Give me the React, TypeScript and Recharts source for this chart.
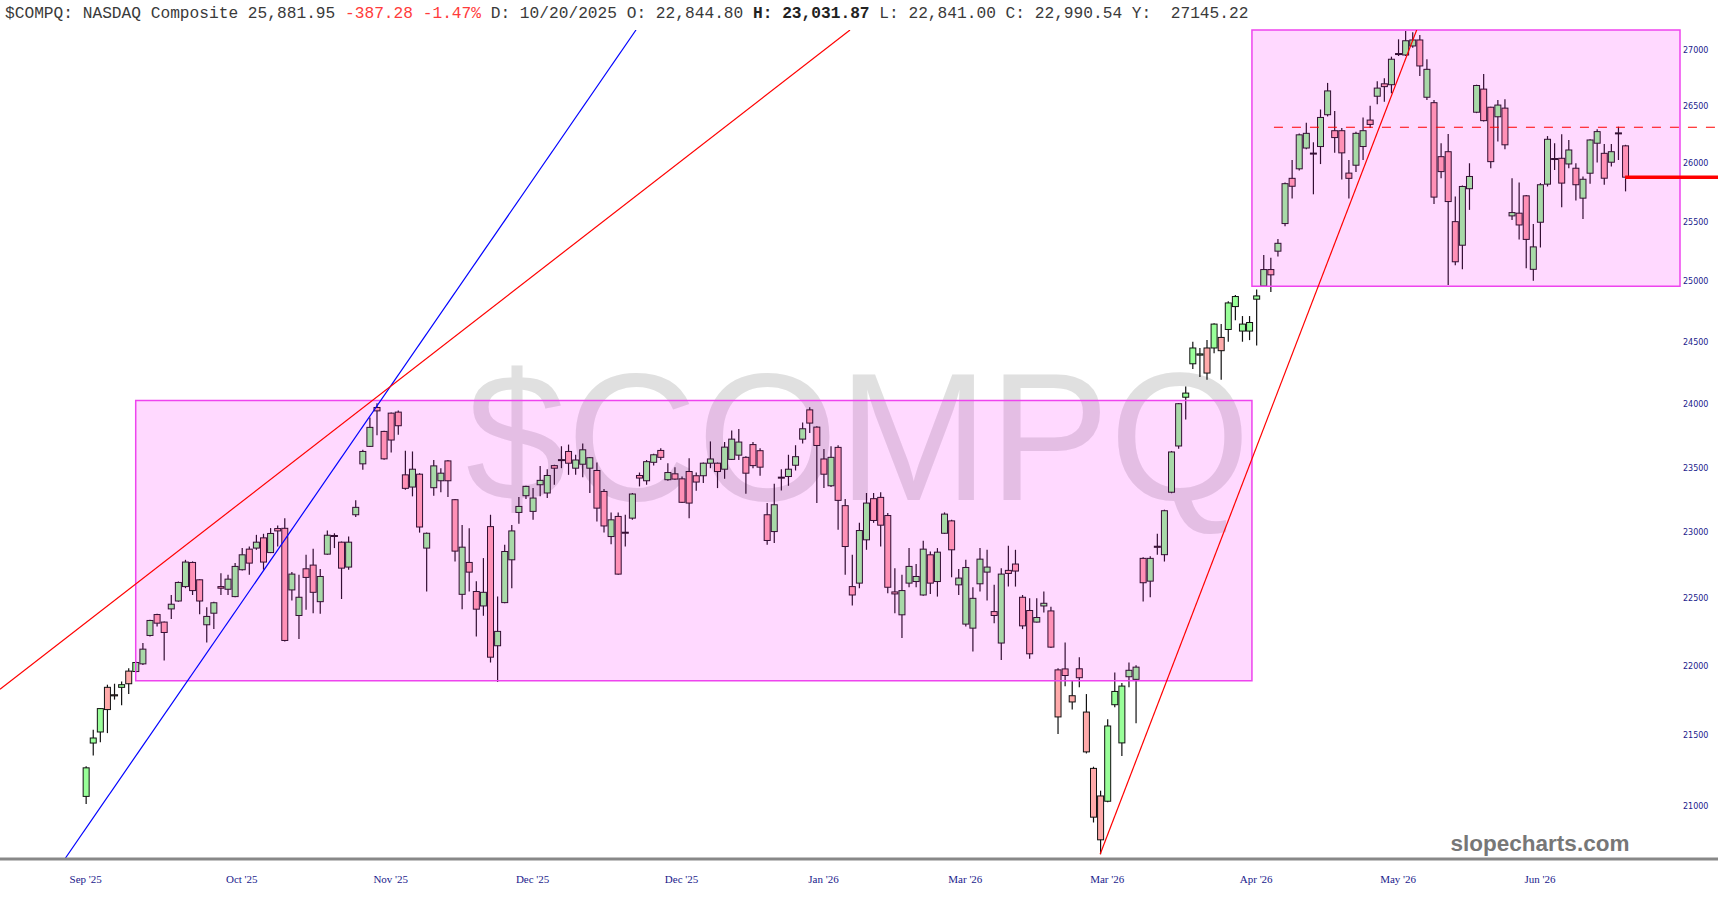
import React from 'react';
import { ComposedChart, Bar, XAxis, YAxis, ReferenceArea, ReferenceLine } from 'recharts';

const W = 1718;
const H = 900;

// daily candles
const opens = [
  21066, 21443, 21522, 21844, 21790, 21844, 21962, 21959, 22015, 22224,
  22379, 22323, 22421, 22480, 22588, 22770, 22639, 22303, 22389, 22588,
  22568, 22513, 22715, 22871, 22879, 22957, 22844.8, 23028, 23030, 22563,
  22372, 22722, 22750, 22475, 22833, 22975, 22924, 22735, 23134, 23529,
  23666, 23974, 23784, 23929, 23937, 23443, 23348, 23448, 22879, 23343,
  23397, 23552, 23250, 22530, 22770, 22551, 22443, 23043, 22148, 22468,
  22790, 23152, 23281, 23160, 23366, 23302, 23515, 23560, 23626, 23495,
  23526, 23495, 23477, 23314, 22967, 23121, 23000, 23108, 23438, 23397,
  23541, 23634, 23405, 23451, 23412, 23469, 23436, 23436, 23534, 23534,
  23487, 23564, 23597, 23580, 23680, 23632, 23134, 23005, 23425, 23430,
  23518, 23723, 23955, 23818, 23567, 23358, 23658, 23204, 22588, 22614,
  22942, 23258, 23268, 23128, 22548, 22377, 22614, 22626, 22525, 22828,
  22626, 22992, 23087, 22601, 22308, 22278, 22609, 22697, 22401, 22168,
  22710, 22758, 22508, 22409, 22323, 22443, 22406, 21971, 21978, 21783,
  21979, 21665, 21263, 21069, 21032, 21718, 21444, 21921, 21902, 22801,
  22629, 22893, 22829, 23308, 23669, 24056, 24325, 24395, 24453, 24453,
  24539, 24604, 24792, 24591, 24591, 24853, 24962, 25099, 25253, 25486,
  25872, 25954, 26134, 26090, 26147, 26425, 26285, 26285, 25917, 25985,
  26147, 26378, 26588, 26698, 26690, 26960, 26955, 27036, 27090, 26579,
  26531, 26059, 26102, 25502, 25303, 25783, 26447, 26651, 26491, 26407,
  26483, 25551, 25574, 25722, 25101, 25497, 25822, 26035, 26045, 25996,
  25959, 25702, 25916, 26176, 26088, 26011, 26258, 26153,
];
const highs = [
  21278, 21538, 21695, 21863, 21870, 21887, 21983, 22032, 22168, 22340,
  22384, 22328, 22525, 22626, 22790, 22778, 22644, 22433, 22475, 22689,
  22677, 22765, 22879, 22891, 22980, 22988, 23031.87, 23051, 23108, 22697,
  22677, 22828, 22874, 22720, 23013, 22992, 22929, 22967, 23245, 23639,
  23895, 24008, 23790, 23934, 23950, 23632, 23626, 23456, 22997, 23559,
  23495, 23559, 23255, 23055, 23030, 22629, 22803, 23134, 22513, 22904,
  23055, 23271, 23358, 23340, 23513, 23487, 23521, 23667, 23680, 23600,
  23689, 23583, 23539, 23332, 23152, 23152, 23134, 23302, 23461, 23559,
  23608, 23652, 23534, 23503, 23430, 23572, 23461, 23539, 23705, 23539,
  23700, 23792, 23803, 23588, 23700, 23652, 23224, 23374, 23487, 23600,
  23675, 23855, 23976, 23824, 23645, 23667, 23675, 23255, 22828, 23072,
  23302, 23302, 23307, 23147, 22727, 22677, 22879, 22758, 22934, 22853,
  22879, 23152, 23095, 22720, 22790, 22583, 22879, 22866, 22601, 22727,
  22896, 22866, 22525, 22500, 22500, 22551, 22438, 21983, 22172, 21891,
  22064, 21795, 21275, 21106, 21614, 21952, 21876, 22025, 22005, 22809,
  22817, 22989, 23173, 23630, 24010, 24141, 24504, 24453, 24517, 24655,
  24648, 24835, 24888, 24714, 24714, 24933, 25220, 25197, 25355, 25836,
  26031, 26260, 26355, 26184, 26471, 26706, 26457, 26308, 26031, 26275,
  26401, 26503, 26720, 26748, 26940, 27096, 27170, 27160, 27135, 26917,
  26555, 26176, 26257, 25716, 25810, 26002, 26690, 26786, 26495, 26555,
  26561, 25873, 25836, 25730, 25482, 25831, 26238, 26176, 26253, 26204,
  26002, 25888, 26210, 26298, 26170, 26170, 26320, 26162,
];
const lows = [
  21012, 21354, 21448, 21514, 21755, 21714, 21796, 21952, 22007, 22217,
  22290, 22039, 22345, 22475, 22576, 22525, 22382, 22172, 22271, 22525,
  22525, 22508, 22710, 22677, 22866, 22715, 22841, 22891, 22180, 22483,
  22197, 22414, 22389, 22384, 22828, 22879, 22495, 22715, 23116, 23482,
  23661, 23753, 23560, 23618, 23758, 23327, 23276, 22997, 22551, 23281,
  23307, 23271, 22778, 22419, 22551, 22217, 22370, 22025, 21882, 22463,
  22576, 23064, 23255, 23095, 23276, 23263, 23366, 23495, 23443, 23443,
  23425, 23302, 23082, 22997, 22909, 22677, 22891, 23095, 23353, 23366,
  23515, 23559, 23397, 23405, 23224, 23108, 23320, 23379, 23495, 23340,
  23412, 23559, 23559, 23297, 23495, 23436, 22904, 22917, 23322, 23358,
  23477, 23689, 23771, 23224, 23340, 23348, 23018, 22677, 22446, 22576,
  22866, 23072, 22891, 22538, 22389, 22206, 22583, 22583, 22520, 22533,
  22513, 22987, 22659, 22525, 22290, 22106, 22551, 22483, 22315, 22044,
  22588, 22588, 22271, 22052, 22320, 22394, 22131, 21507, 21851, 21684,
  21845, 21369, 20884, 20665, 21025, 21699, 21350, 21845, 21584, 22476,
  22508, 22829, 22777, 23300, 23648, 23878, 24282, 24218, 24197, 24410,
  24197, 24504, 24679, 24504, 24517, 24474, 24953, 24913, 25208, 25463,
  25699, 25940, 26124, 25735, 25995, 26410, 26092, 25863, 25699, 25926,
  26031, 26308, 26518, 26540, 26614, 26946, 26946, 27020, 26768, 26555,
  25653, 25873, 24970, 25136, 25101, 25602, 26439, 26365, 25959, 26190,
  26124, 25516, 25352, 25109, 25006, 25284, 25802, 25944, 25625, 25959,
  25682, 25525, 25825, 26008, 25817, 25974, 26030, 25760,
];
const closes = [
  21267, 21479, 21690, 21683, 21782, 21863, 21870, 22025, 22123, 22335,
  22315, 22246, 22456, 22619, 22773, 22558, 22480, 22365, 22467, 22576,
  22644, 22740, 22828, 22765, 22924, 22773, 22990.54, 23010, 22187, 22682,
  22508, 22657, 22545, 22664, 22977, 22970, 22727, 22924, 23191, 23626,
  23816, 23947, 23568, 23716, 23829, 23338, 23487, 23040, 22992, 23513,
  23456, 23397, 22856, 22886, 22697, 22419, 22545, 22064, 22254, 22853,
  23010, 23198, 23353, 23263, 23400, 23438, 23495, 23562, 23534, 23559,
  23639, 23577, 23185, 23048, 23095, 22682, 22997, 23294, 23418, 23546,
  23600, 23580, 23461, 23410, 23230, 23224, 23387, 23534, 23567, 23469,
  23660, 23723, 23700, 23456, 23515, 23503, 22937, 23211, 23420, 23487,
  23585, 23805, 23850, 23673, 23448, 23580, 23245, 22891, 22525, 23013,
  23224, 23090, 23054, 22583, 22533, 22558, 22740, 22664, 22871, 22614,
  22848, 23139, 22866, 22652, 22732, 22500, 22795, 22735, 22372, 22682,
  22687, 22705, 22295, 22089, 22357, 22463, 22138, 21630, 21930, 21738,
  21914, 21380, 20921, 20764, 21565, 21814, 21853, 21968, 21991, 22617,
  22801, 22885, 23165, 23622, 24004, 24089, 24453, 24405, 24250, 24648,
  24431, 24822, 24875, 24648, 24661, 24880, 25099, 25055, 25319, 25826,
  25804, 26249, 26262, 26084, 26401, 26635, 26225, 26092, 25872, 26262,
  26285, 26340, 26660, 26673, 26917, 26968, 27083, 27090, 26857, 26827,
  25711, 25930, 25673, 25164, 25802, 25888, 26683, 26373, 26016, 26510,
  26162, 25579, 25474, 25352, 25289, 25817, 26210, 26043, 25831, 26117,
  25817, 25864, 26204, 26277, 25873, 26102, 26266, 25881.95,
];

// x-axis labels sit on these candle numbers
const dateTickIdx = [0, 22, 43, 63, 84, 104, 124, 144, 165, 185, 205];
const dateTickLabels = ["Sep '25", "Oct '25", "Nov '25", "Dec '25", "Dec '25", "Jan '26", "Mar '26", "Mar '26", "Apr '26", "May '26", "Jun '26"];
const priceTicks = [21000, 21500, 22000, 22500, 23000, 23500, 24000, 24500, 25000, 25500, 26000, 26500, 27000];

// visible window (candle number / price)
const X_MIN = -12.08;
const X_MAX = 224.74;
const X_EDGE = 230.2;
const Y_MIN = 20632;
const Y_MAX = 27180;

// drawn annotations: [x1, y1, x2, y2]
const blueTrend = [-2.95, Y_MIN, 77.57, Y_MAX];
const redTrend = [X_MIN, 21830, 107.74, Y_MAX];
const redSteep = [143, 20665, 187.62, Y_MAX];
const rangeLow = [7.05, 164.4, 21892, 24030];
const rangeHigh = [164.4, X_MAX, 24960, Y_MAX];
const resistance = 26315;
const lastClose = 25881.95;

const rows = opens.map((o, i) => ({
  i,
  o,
  h: highs[i],
  l: lows[i],
  c: closes[i],
  range: [lows[i], highs[i]],
}));

const Candle = (props: any) => {
  const { x, y, width, height, payload } = props;
  if (!payload) return null;
  const { o, h, l, c } = payload;
  const top = Math.min(y, y + height);
  const bot = Math.max(y, y + height);
  const span = Math.log(h) - Math.log(l) || 1;
  const at = (v: number) => top + ((bot - top) * (Math.log(h) - Math.log(v))) / span;
  const bTop = at(Math.max(o, c));
  const bBot = at(Math.min(o, c));
  const cx = x + width / 2;
  return (
    <g>
      <line x1={cx} x2={cx} y1={top} y2={bot} stroke="#111" strokeWidth={1.2} />
      <rect
        x={x}
        y={bTop}
        width={width}
        height={Math.max(bBot - bTop, 1)}
        fill={c >= o ? '#99ff99' : '#ffaaaa'}
        stroke="#111"
        strokeWidth={1}
      />
    </g>
  );
};

const DateTick = (props: any) => {
  const k = dateTickIdx.indexOf(props.payload.value);
  return (
    <text x={props.x} y={883} textAnchor="middle" fontFamily="'Liberation Serif', serif" fontSize={11} fill="#1a1a8c">
      {k >= 0 ? dateTickLabels[k] : ''}
    </text>
  );
};

const PriceTick = (props: any) => (
  <text x={1683} y={props.y + 3} fontFamily="'DejaVu Sans', sans-serif" fontSize={8} fill="#1a1a8c">
    {props.payload.value}
  </text>
);

const seg = (s: number[]) => [
  { x: s[0], y: s[1] },
  { x: s[2], y: s[3] },
];

const layer: React.CSSProperties = { position: 'absolute', left: 0, top: 0, width: W, height: H };

export default function App() {
  return (
    <div style={{ ...layer, background: '#fff', overflow: 'hidden' }}>
      <svg width={W} height={H} style={layer}>
        <text x={858} y={500} textAnchor="middle" fontFamily="'Liberation Sans', Arial, sans-serif" fontSize={181} fill="#e0e0e0">
          $COMPQ
        </text>
      </svg>
      <div style={layer}>
        <ComposedChart width={W} height={H} data={rows} margin={{ top: 30, right: 0, bottom: 0, left: 0 }}>
          <XAxis
            dataKey="i"
            type="number"
            domain={[X_MIN, X_MAX]}
            allowDataOverflow
            ticks={dateTickIdx}
            interval={0}
            height={41}
            axisLine={false}
            tickLine={false}
            tick={DateTick}
          />
          <YAxis
            orientation="right"
            scale="log"
            domain={[Y_MIN, Y_MAX]}
            allowDataOverflow
            ticks={priceTicks}
            interval={0}
            width={38}
            axisLine={false}
            tickLine={false}
            tick={PriceTick}
          />
          <Bar dataKey="range" barSize={6} shape={Candle} isAnimationActive={false} />
          <ReferenceArea
            x1={rangeLow[0]}
            x2={rangeLow[1]}
            y1={rangeLow[2]}
            y2={rangeLow[3]}
            fill="#ff00ff"
            fillOpacity={0.15}
            stroke="#ee44ee"
            strokeWidth={1.5}
            ifOverflow="visible"
            zIndex={500}
          />
          <ReferenceArea
            x1={rangeHigh[0]}
            x2={rangeHigh[1]}
            y1={rangeHigh[2]}
            y2={rangeHigh[3]}
            fill="#ff00ff"
            fillOpacity={0.15}
            stroke="#ee44ee"
            strokeWidth={1.5}
            ifOverflow="visible"
            zIndex={500}
          />
          <ReferenceLine segment={seg(blueTrend)} stroke="#0000ff" strokeWidth={1.2} ifOverflow="hidden" zIndex={600} />
          <ReferenceLine segment={seg(redTrend)} stroke="#ff0000" strokeWidth={1.2} ifOverflow="hidden" zIndex={600} />
          <ReferenceLine segment={seg(redSteep)} stroke="#ff0000" strokeWidth={1.2} ifOverflow="hidden" zIndex={600} />
          <ReferenceLine
            segment={seg([167.5, resistance, X_EDGE, resistance])}
            stroke="#ff0000"
            strokeWidth={1.2}
            strokeDasharray="9 9"
            ifOverflow="visible"
            zIndex={600}
          />
          <ReferenceLine
            segment={seg([rows.length - 1, lastClose, X_EDGE, lastClose])}
            stroke="#ff0000"
            strokeWidth={3.5}
            ifOverflow="visible"
            zIndex={600}
          />
          <ReferenceLine
            segment={seg([X_MIN, Y_MIN, X_EDGE, Y_MIN])}
            stroke="#888"
            strokeWidth={3}
            ifOverflow="visible"
            zIndex={600}
          />
        </ComposedChart>
      </div>
      <svg width={W} height={H} style={{ ...layer, pointerEvents: 'none' }}>
        <text x={5} y={18} fontFamily="'Liberation Mono', 'Courier New', monospace" fontSize={16.2} fill="#3a3a3a" style={{ whiteSpace: 'pre' }}>
          <tspan>$COMPQ: NASDAQ Composite 25,881.95 </tspan>
          <tspan fill="#ff3b3b">-387.28 -1.47%</tspan>
          <tspan> D: 10/20/2025 O: 22,844.80 </tspan>
          <tspan fontWeight="bold" fill="#222">H: 23,031.87</tspan>
          <tspan> L: 22,841.00 C: 22,990.54 Y:  27145.22</tspan>
        </text>
        <text x={1540} y={851} textAnchor="middle" fontFamily="'Liberation Sans', Arial, sans-serif" fontWeight="bold" fontSize={22.5} fill="#777">
          slopecharts.com
        </text>
      </svg>
    </div>
  );
}
